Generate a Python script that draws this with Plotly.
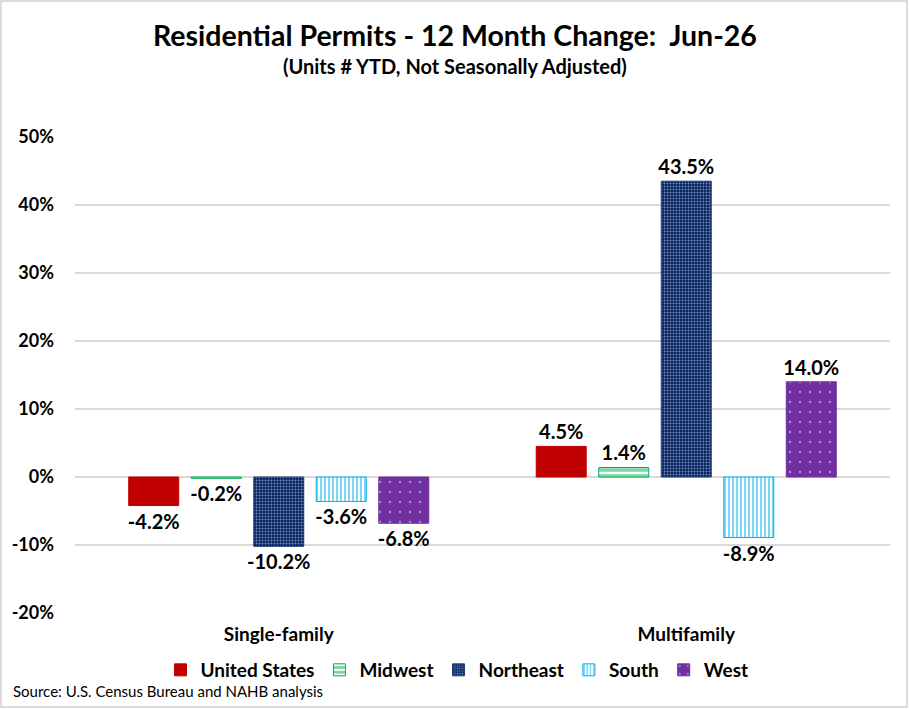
import plotly.graph_objects as go

categories = ["Single-family", "Multifamily"]
series_names = ["United States", "Midwest", "Northeast", "South", "West"]
us = [-4.2, 4.5]
midwest = [-0.2, 1.4]
northeast = [-10.2, 43.5]
south = [-3.6, -8.9]
west = [-6.8, 14.0]
y_ticks = [-20, -10, 0, 10, 20, 30, 40, 50]

W, H = 909, 709
ML, MR, MT, MB = 75, 19, 137, 96
PW, PH = W - ML - MR, H - MT - MB

def px_x(x):
    return (x - ML) / PW

def px_y(y):
    return (H - MB - y) / PH

FONT = "Lato"

styles = [
    dict(color="#C00000", line="#C00000", pattern=None),
    dict(color="#FFFFFF", line="#00B050",
         pattern=dict(shape="-", fgcolor="#00B050", bgcolor="#FFFFFF", size=6, solidity=0.6)),
    dict(color="#002060", line="#1F3F7A",
         pattern=dict(shape=".", fgcolor="#FFFFFF", bgcolor="#002060", size=3, solidity=0.35)),
    dict(color="#FFFFFF", line="#00B0F0",
         pattern=dict(shape="|", fgcolor="#00B0F0", bgcolor="#FFFFFF", size=4, solidity=0.5)),
    dict(color="#7030A0", line="#7030A0",
         pattern=dict(shape=".", fgcolor="#FFFFFF", bgcolor="#7030A0", size=10, solidity=0.04)),
]

data = [us, midwest, northeast, south, west]

fig = go.Figure()
for name, vals, st in zip(series_names, data, styles):
    marker = dict(color=st["color"], line=dict(color=st["line"], width=1))
    if st["pattern"]:
        marker["pattern"] = st["pattern"]
    fig.add_trace(go.Bar(
        x=categories, y=vals, name=name, marker=marker,
        texttemplate="%{y:.1f}%", textposition="outside", constraintext="none",
        textfont=dict(family=FONT, size=20, color="#000000", weight="bold"),
        cliponaxis=False,
    ))

fig.update_layout(
    width=W, height=H,
    margin=dict(l=ML, r=MR, t=MT, b=MB),
    paper_bgcolor="white", plot_bgcolor="white",
    barmode="group", bargap=0.233, bargroupgap=0.2,
    font=dict(family=FONT, color="#000000"),
    showlegend=True,
    legend=dict(orientation="h", x=px_x(457), xanchor="center", y=px_y(670), yanchor="middle",
                font=dict(family=FONT, size=19, weight="bold"), traceorder="normal",
                itemwidth=30, bgcolor="rgba(0,0,0,0)"),
    xaxis=dict(showgrid=False, showline=False, ticks="",
               tickfont=dict(family=FONT, size=19, weight="bold"), ticklabelstandoff=8),
    yaxis=dict(range=[-20, 50], tickvals=y_ticks, ticktext=[f"{v}%" for v in y_ticks],
               showgrid=True, gridcolor="#D9D9D9", gridwidth=1.5,
               zeroline=True, zerolinecolor="#D9D9D9", zerolinewidth=1.5,
               showline=False, ticks="",
               tickfont=dict(family=FONT, size=18, weight="bold"), ticklabelstandoff=20),
    annotations=[
        dict(text="Residential Permits - 12 Month Change:  Jun-26", xref="paper", yref="paper",
             x=px_x(455), y=px_y(35), xanchor="center", yanchor="middle", showarrow=False,
             font=dict(family=FONT, size=28.5, weight="bold")),
        dict(text="(Units # YTD, Not Seasonally Adjusted)", xref="paper", yref="paper",
             x=px_x(455), y=px_y(66), xanchor="center", yanchor="middle", showarrow=False,
             font=dict(family=FONT, size=20, weight="bold")),
        dict(text="Source: U.S. Census Bureau and NAHB analysis", xref="paper", yref="paper",
             x=px_x(11), y=px_y(691), xanchor="left", yanchor="middle", showarrow=False,
             font=dict(family=FONT, size=15)),
    ],
    shapes=[
        dict(type="rect", xref="paper", yref="paper",
             x0=px_x(1), x1=px_x(907), y0=px_y(707), y1=px_y(1),
             line=dict(color="#D0D0D0", width=1.5), fillcolor="rgba(0,0,0,0)", layer="below"),
    ],
)

fig.write_html("out.html", config={"displayModeBar": False},
               post_script="document.body.style.margin='0px';")
